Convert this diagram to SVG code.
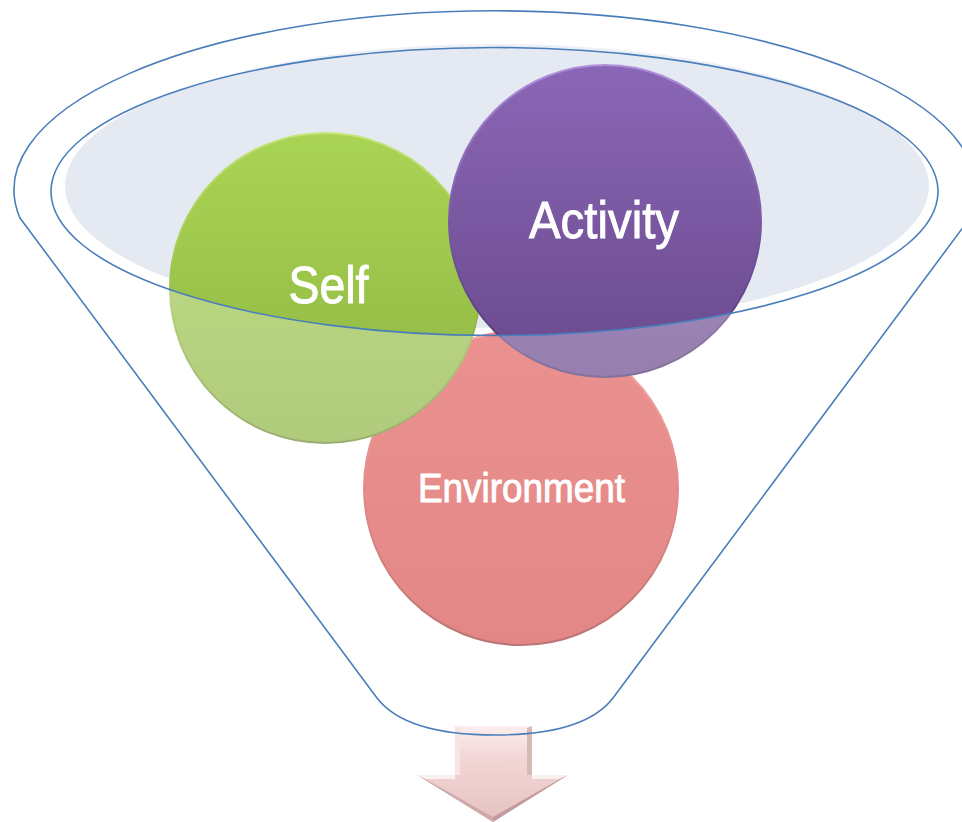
<svg xmlns="http://www.w3.org/2000/svg" width="962" height="822" viewBox="0 0 962 822">
  <style>
    .label { font-family: "Liberation Sans", Arial, sans-serif; fill: #ffffff; stroke: #ffffff; stroke-width: 0.9; text-anchor: middle; }
    .rim { fill: none; stroke: #4a7ebb; stroke-width: 1.6; }
  </style>
  <defs>
    <linearGradient id="gGreen" x1="0" y1="0" x2="0" y2="1">
      <stop offset="0" stop-color="#aad454"/>
      <stop offset="1" stop-color="#8db443"/>
    </linearGradient>
    <linearGradient id="gGreenEdge" x1="0" y1="0" x2="0" y2="1">
      <stop offset="0" stop-color="#c4e57a"/>
      <stop offset="0.5" stop-color="#9cc34c"/>
      <stop offset="1" stop-color="#6d8c34"/>
    </linearGradient>
    <linearGradient id="gPurple" x1="0" y1="0" x2="0" y2="1">
      <stop offset="0" stop-color="#8a67b6"/>
      <stop offset="1" stop-color="#69498d"/>
    </linearGradient>
    <linearGradient id="gPurpleEdge" x1="0" y1="0" x2="0" y2="1">
      <stop offset="0" stop-color="#b08fdc"/>
      <stop offset="0.5" stop-color="#7a59a4"/>
      <stop offset="1" stop-color="#4e3470"/>
    </linearGradient>
    <linearGradient id="gRed" x1="0" y1="0" x2="0" y2="1">
      <stop offset="0" stop-color="#e2625f"/>
      <stop offset="1" stop-color="#d65451"/>
    </linearGradient>
    <linearGradient id="gRedEdge" x1="0" y1="0" x2="0" y2="1">
      <stop offset="0" stop-color="#f08a88"/>
      <stop offset="0.5" stop-color="#d85a57"/>
      <stop offset="1" stop-color="#9c3a38"/>
    </linearGradient>
    <linearGradient id="gArrow" x1="0" y1="0" x2="0" y2="1">
      <stop offset="0" stop-color="#fbeeee"/>
      <stop offset="0.35" stop-color="#f2d5d5"/>
      <stop offset="1" stop-color="#e6c2c2"/>
    </linearGradient>
  </defs>

  <!-- funnel mouth fill -->
  <g id="funnel-mouth">
    <ellipse cx="497" cy="186" rx="432" ry="142" fill="#e5eaf2"/>
  </g>

  <!-- circles -->
  <g id="node-environment">
    <circle cx="521" cy="488" r="157" fill="url(#gRed)" stroke="url(#gRedEdge)" stroke-width="2"/>
    <text class="label" x="521.5" y="502" font-size="40" textLength="207" lengthAdjust="spacingAndGlyphs">Environment</text>
  </g>
  <g id="node-self">
    <circle cx="325" cy="288" r="155" fill="url(#gGreen)" stroke="url(#gGreenEdge)" stroke-width="2"/>
    <text class="label" x="328.5" y="303" font-size="52" textLength="80" lengthAdjust="spacingAndGlyphs">Self</text>
  </g>
  <g id="node-activity">
    <circle cx="605" cy="221" r="156" fill="url(#gPurple)" stroke="url(#gPurpleEdge)" stroke-width="2"/>
    <text class="label" x="604" y="238" font-size="52" textLength="150" lengthAdjust="spacingAndGlyphs">Activity</text>
  </g>

  <!-- translucent funnel body over the circles, open at the mouth -->
  <path id="funnel-body" fill="#ffffff" fill-opacity="0.3" fill-rule="evenodd"
        d="M 20 218 A 481 179 0 1 1 970 218 L 613 698 C 590 728 540 735 495 735 C 450 735 400 728 377 698 Z
           M 51 191.5 A 443.5 144 0 1 0 938 191.5 A 443.5 144 0 1 0 51 191.5 Z"/>

  <!-- output arrow -->
  <g id="output-arrow">
    <polygon points="455,726 532,726 532,775 568,775 493,822 417,775 455,775" fill="url(#gArrow)"/>
    <polygon points="417,775 455,775 455,779 425,779" fill="#fbf0f0"/>
    <polygon points="532,775 568,775 560,779 532,779" fill="#fbf0f0"/>
    <polygon points="417,775 425,779 493,817 493,822" fill="#cfa9a9"/>
    <polygon points="568,775 560,779 493,817 493,822" fill="#c29c9c"/>
    <polygon points="527,728 532,726 532,775 527,775" fill="#d9b8b8"/>
    <polygon points="455,726 460,728 460,775 455,775" fill="#f7e4e4"/>
  </g>

  <!-- funnel outlines -->
  <g id="funnel-outline">
    <path class="rim" d="M 20 218 A 481 179 0 1 1 970 218 L 613 698 C 590 728 540 735 495 735 C 450 735 400 728 377 698 Z"/>
    <ellipse class="rim" cx="494.5" cy="191.5" rx="443.5" ry="144"/>
  </g>

  <g id="connectors"/>
</svg>
